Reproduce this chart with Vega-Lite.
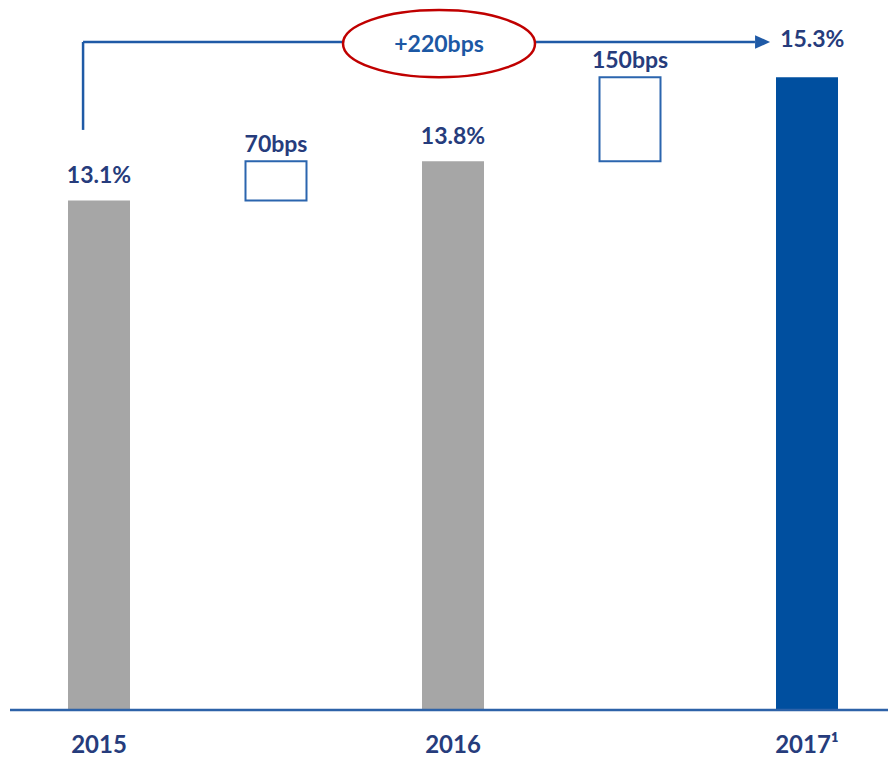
{
  "$schema": "https://vega.github.io/schema/vega-lite/v6.json",
  "width": 878,
  "height": 710,
  "autosize": {"type": "none"},
  "padding": {"left": 10, "top": 0, "right": 0, "bottom": 50},
  "background": "white",
  "config": {"view": {"stroke": null}, "font": "Lato"},
  "datasets": {
    "bars": [
      {"pos": 0, "year": "2015", "kind": "total", "series": "past", "start": 13.1, "end": 13.1, "label": "13.1%"},
      {"pos": 1, "year": "", "kind": "delta", "series": "delta", "start": 13.1, "end": 13.8, "label": "70bps"},
      {"pos": 2, "year": "2016", "kind": "total", "series": "past", "start": 13.8, "end": 13.8, "label": "13.8%"},
      {"pos": 3, "year": "", "kind": "delta", "series": "delta", "start": 13.8, "end": 15.3, "label": "150bps"},
      {"pos": 4, "year": "2017¹", "kind": "total", "series": "current", "start": 15.3, "end": 15.3, "label": "15.3%"}
    ],
    "bracket": [
      {"x": -0.09, "x2": -0.09, "y": 14.36, "y2": 15.93},
      {"x": -0.09, "x2": 3.706, "y": 15.93, "y2": 15.93}
    ],
    "arrow": [{"x": 3.749, "y": 15.93}],
    "oval": [{"x": 1.921, "y": 15.9, "text": "+220bps"}],
    "endlabel": [{"x": 4.03, "y": 15.96, "text": "15.3%"}]
  },
  "layer": [
    {
      "data": {"name": "bars"},
      "transform": [{"filter": "datum.kind == 'total'"}],
      "mark": {"type": "bar", "width": 62},
      "encoding": {
        "x": {"field": "pos", "type": "quantitative", "scale": {"domain": [-0.5028, 4.4576], "nice": false, "zero": false, "padding": 0}, "axis": null},
        "y": {"field": "end", "type": "quantitative", "scale": {"domain": [4, 16.68], "nice": false, "zero": false, "padding": 0, "clamp": true}, "axis": null},
        "color": {"field": "series", "type": "nominal", "scale": {"domain": ["past", "current"], "range": ["#a6a6a6", "#004f9f"]}, "legend": null}
      }
    },
    {
      "data": {"name": "bars"},
      "transform": [{"filter": "datum.kind == 'delta'"}],
      "mark": {"type": "bar", "width": 61, "fill": "white", "stroke": "#2b65ae", "strokeWidth": 2},
      "encoding": {
        "x": {"field": "pos", "type": "quantitative", "scale": {"domain": [-0.5028, 4.4576], "nice": false, "zero": false, "padding": 0}},
        "y": {"field": "end", "type": "quantitative", "scale": {"domain": [4, 16.68], "nice": false, "zero": false, "padding": 0, "clamp": true}},
        "y2": {"field": "start"}
      }
    },
    {
      "data": {"name": "bars"},
      "mark": {"type": "rule", "color": "#2d62a8", "strokeWidth": 2.5, "clip": false},
      "transform": [{"filter": "datum.pos == 0"}],
      "encoding": {
        "y": {"datum": 4, "type": "quantitative", "scale": {"domain": [4, 16.68], "nice": false, "zero": false, "padding": 0, "clamp": true}}
      }
    },
    {
      "data": {"name": "bars"},
      "transform": [{"filter": "datum.kind == 'total' && datum.series == 'past'"}],
      "mark": {"type": "text", "dy": -17, "baseline": "alphabetic", "fontSize": 23, "fontWeight": "bold", "color": "#263c7c"},
      "encoding": {
        "x": {"field": "pos", "type": "quantitative", "scale": {"domain": [-0.5028, 4.4576], "nice": false, "zero": false, "padding": 0}},
        "y": {"field": "end", "type": "quantitative", "scale": {"domain": [4, 16.68], "nice": false, "zero": false, "padding": 0, "clamp": true}},
        "text": {"field": "label"}
      }
    },
    {
      "data": {"name": "bars"},
      "transform": [{"filter": "datum.kind == 'delta'"}],
      "mark": {"type": "text", "dy": -9, "baseline": "alphabetic", "fontSize": 23, "fontWeight": "bold", "color": "#263c7c"},
      "encoding": {
        "x": {"field": "pos", "type": "quantitative", "scale": {"domain": [-0.5028, 4.4576], "nice": false, "zero": false, "padding": 0}},
        "y": {"field": "end", "type": "quantitative", "scale": {"domain": [4, 16.68], "nice": false, "zero": false, "padding": 0, "clamp": true}},
        "text": {"field": "label"}
      }
    },
    {
      "data": {"name": "bars"},
      "transform": [{"filter": "datum.year != ''"}],
      "mark": {"type": "text", "dy": 36, "baseline": "middle", "fontSize": 24, "fontWeight": "bold", "color": "#263c7c", "clip": false},
      "encoding": {
        "x": {"field": "pos", "type": "quantitative", "scale": {"domain": [-0.5028, 4.4576], "nice": false, "zero": false, "padding": 0}},
        "y": {"datum": 4, "type": "quantitative", "scale": {"domain": [4, 16.68], "nice": false, "zero": false, "padding": 0, "clamp": true}},
        "text": {"field": "year"}
      }
    },
    {
      "data": {"name": "bracket"},
      "mark": {"type": "rule", "color": "#1f5aa6", "strokeWidth": 2.5},
      "encoding": {
        "x": {"field": "x", "type": "quantitative", "scale": {"domain": [-0.5028, 4.4576], "nice": false, "zero": false, "padding": 0}},
        "x2": {"field": "x2"},
        "y": {"field": "y", "type": "quantitative", "scale": {"domain": [4, 16.68], "nice": false, "zero": false, "padding": 0, "clamp": true}},
        "y2": {"field": "y2"}
      }
    },
    {
      "data": {"name": "arrow"},
      "mark": {"type": "point", "shape": "M -1 -0.9 L 1 0 L -1 0.9 Z", "size": 225, "filled": true, "color": "#1f5aa6", "opacity": 1},
      "encoding": {
        "x": {"field": "x", "type": "quantitative", "scale": {"domain": [-0.5028, 4.4576], "nice": false, "zero": false, "padding": 0}},
        "y": {"field": "y", "type": "quantitative", "scale": {"domain": [4, 16.68], "nice": false, "zero": false, "padding": 0, "clamp": true}}
      }
    },
    {
      "data": {"name": "oval"},
      "mark": {"type": "point", "shape": "M -1 0 A 1 0.35 0 1 0 1 0 A 1 0.35 0 1 0 -1 0 Z", "size": 36864, "fill": "white", "fillOpacity": 1, "stroke": "#c00000", "strokeWidth": 2.5, "opacity": 1},
      "encoding": {
        "x": {"field": "x", "type": "quantitative", "scale": {"domain": [-0.5028, 4.4576], "nice": false, "zero": false, "padding": 0}},
        "y": {"field": "y", "type": "quantitative", "scale": {"domain": [4, 16.68], "nice": false, "zero": false, "padding": 0, "clamp": true}}
      }
    },
    {
      "data": {"name": "oval"},
      "mark": {"type": "text", "baseline": "middle", "fontSize": 23, "fontWeight": "bold", "color": "#1c58a4", "dy": 1},
      "encoding": {
        "x": {"field": "x", "type": "quantitative", "scale": {"domain": [-0.5028, 4.4576], "nice": false, "zero": false, "padding": 0}},
        "y": {"field": "y", "type": "quantitative", "scale": {"domain": [4, 16.68], "nice": false, "zero": false, "padding": 0, "clamp": true}},
        "text": {"field": "text"}
      }
    },
    {
      "data": {"name": "endlabel"},
      "mark": {"type": "text", "baseline": "middle", "fontSize": 23, "fontWeight": "bold", "color": "#263c7c"},
      "encoding": {
        "x": {"field": "x", "type": "quantitative", "scale": {"domain": [-0.5028, 4.4576], "nice": false, "zero": false, "padding": 0}},
        "y": {"field": "y", "type": "quantitative", "scale": {"domain": [4, 16.68], "nice": false, "zero": false, "padding": 0, "clamp": true}},
        "text": {"field": "text"}
      }
    }
  ]
}
